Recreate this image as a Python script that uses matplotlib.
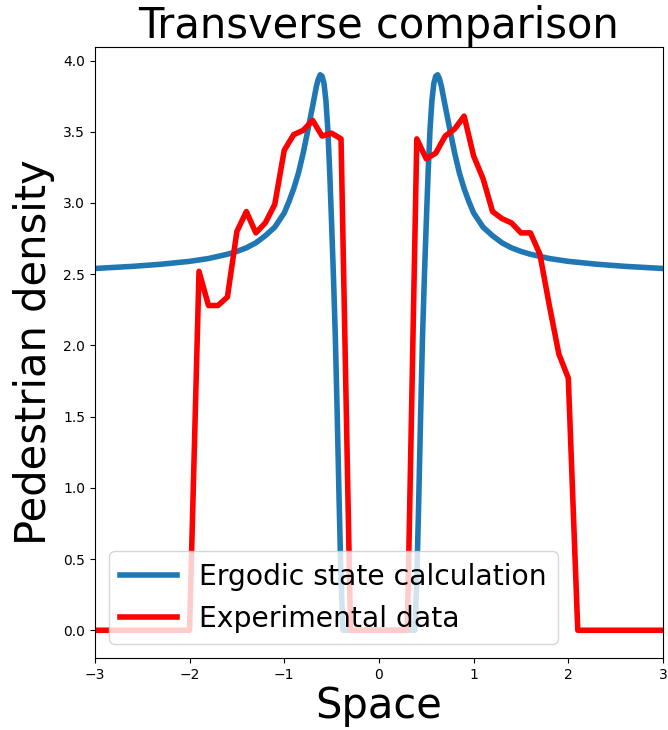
import matplotlib
matplotlib.use("Agg")
import matplotlib.pyplot as plt

# Ergodic state calculation (blue)
blue_x = [-3.0, -2.6, -2.3, -2.0, -1.8, -1.6, -1.5, -1.4, -1.3, -1.2, -1.1, -1.0,
          -0.95, -0.9, -0.85, -0.8, -0.76, -0.73, -0.7, -0.68, -0.66, -0.64, -0.62,
          -0.6, -0.58, -0.56, -0.54, -0.52, -0.5, -0.48, -0.46, -0.44, -0.42, -0.4, -0.38,
          0.38, 0.4, 0.42, 0.44, 0.46, 0.48, 0.5, 0.52, 0.54, 0.56, 0.58, 0.6,
          0.62, 0.64, 0.66, 0.68, 0.7, 0.73, 0.76, 0.8, 0.85, 0.9, 0.95,
          1.0, 1.1, 1.2, 1.3, 1.4, 1.5, 1.6, 1.8, 2.0, 2.3, 2.6, 3.0]
blue_y = [2.54, 2.555, 2.57, 2.59, 2.61, 2.64, 2.66, 2.685, 2.72, 2.77, 2.83, 2.93,
          3.01, 3.10, 3.21, 3.35, 3.48, 3.58, 3.68, 3.75, 3.82, 3.87, 3.90,
          3.89, 3.84, 3.72, 3.52, 3.22, 2.86, 2.48, 2.05, 1.50, 0.90, 0.35, 0.0,
          0.0, 0.35, 0.90, 1.50, 2.05, 2.48, 2.86, 3.22, 3.52, 3.72, 3.84, 3.89,
          3.90, 3.87, 3.82, 3.75, 3.68, 3.58, 3.48, 3.35, 3.21, 3.10, 3.01,
          2.93, 2.83, 2.77, 2.72, 2.685, 2.66, 2.64, 2.61, 2.59, 2.57, 2.555, 2.54]

# Experimental data (red)
red_x = [-3.0, -2.0, -1.9, -1.8, -1.7, -1.6, -1.5, -1.4, -1.3, -1.2, -1.1, -1.0,
         -0.9, -0.8, -0.7, -0.6, -0.5, -0.4, -0.3,
         0.3, 0.4, 0.5, 0.6, 0.7, 0.8, 0.9, 1.0, 1.1, 1.2, 1.3, 1.4, 1.5, 1.6,
         1.7, 1.8, 1.9, 2.0, 2.1, 3.0]
red_y = [0.0, 0.0, 2.52, 2.28, 2.28, 2.34, 2.80, 2.94, 2.79, 2.86, 2.99, 3.37,
         3.48, 3.51, 3.58, 3.47, 3.49, 3.45, 0.0,
         0.0, 3.45, 3.31, 3.35, 3.47, 3.52, 3.61, 3.33, 3.17, 2.94, 2.89, 2.86, 2.79, 2.79,
         2.64, 2.28, 1.94, 1.77, 0.0, 0.0]

fig = plt.figure(figsize=(6.68, 7.30), dpi=100)
ax = fig.add_axes([0.142, 0.0986, 0.8505, 0.837])

ax.plot(blue_x, blue_y, color="#1f77b4", linewidth=4, label="Ergodic state calculation")
ax.plot(red_x, red_y, color="red", linewidth=4, label="Experimental data")

ax.set_xlim(-3, 3)
ax.tick_params(labelsize=10)
ax.set_title("Transverse comparison", fontsize=30)
ax.set_xlabel("Space", fontsize=30, labelpad=2)
ax.set_ylabel("Pedestrian density", fontsize=30, labelpad=6)
ax.legend(loc="lower left", fontsize=20.3)

fig.savefig("out.png", dpi=100)
